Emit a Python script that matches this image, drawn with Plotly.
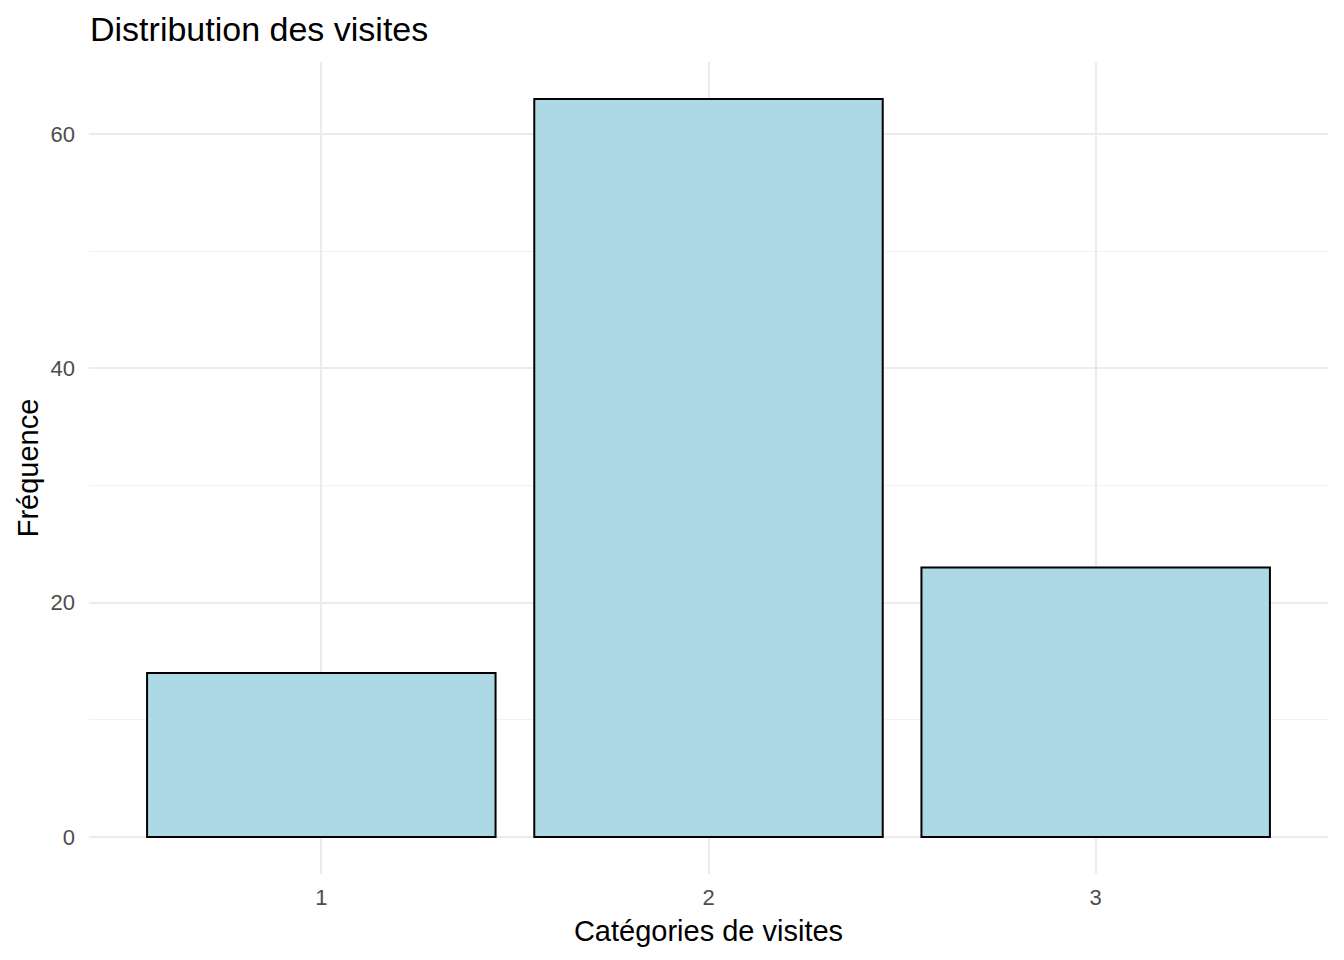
import plotly.graph_objects as go

categories = ["1", "2", "3"]
frequences = [14, 63, 23]

y_ticks = [0, 20, 40, 60]
y_minor = [10, 30, 50]

fig = go.Figure()
fig.add_trace(go.Bar(
    x=categories,
    y=frequences,
    width=0.9,
    marker=dict(color="#ADD8E6", line=dict(color="black", width=2)),
))

fig.update_layout(
    width=1344,
    height=960,
    paper_bgcolor="white",
    plot_bgcolor="white",
    font=dict(family="Liberation Sans, Arial, sans-serif", color="black"),
    margin=dict(l=88.5, r=15.5, t=62, b=86),
    showlegend=False,
    title=dict(
        text="Distribution des visites",
        x=90 / 1344, xanchor="left", xref="container",
        y=1 - 29 / 960, yanchor="middle", yref="container",
        font=dict(size=34, color="black"),
    ),
)

fig.update_xaxes(
    type="category",
    range=[-0.6, 2.6],
    showgrid=True, gridcolor="#EBEBEB", gridwidth=2,
    zeroline=False, showline=False,
    tickfont=dict(size=22, color="#4D4D4D"),
    ticklabelstandoff=8,
    title=dict(text="Catégories de visites", font=dict(size=29, color="black"), standoff=11),
)

fig.update_yaxes(
    range=[-3.15, 66.15],
    tickvals=y_ticks,
    showgrid=True, gridcolor="#EBEBEB", gridwidth=2,
    minor=dict(tickvals=y_minor, showgrid=True, gridcolor="#F2F2F2", gridwidth=1),
    zeroline=False, showline=False,
    tickfont=dict(size=22, color="#4D4D4D"),
    ticklabelstandoff=13,
    title=dict(text="Fréquence", font=dict(size=29, color="black"), standoff=3),
)

# the page's default body margin would shift the figure by 8px
fig.write_html("out.html", config={"displayModeBar": False},
               post_script="document.body.style.margin='0';")
